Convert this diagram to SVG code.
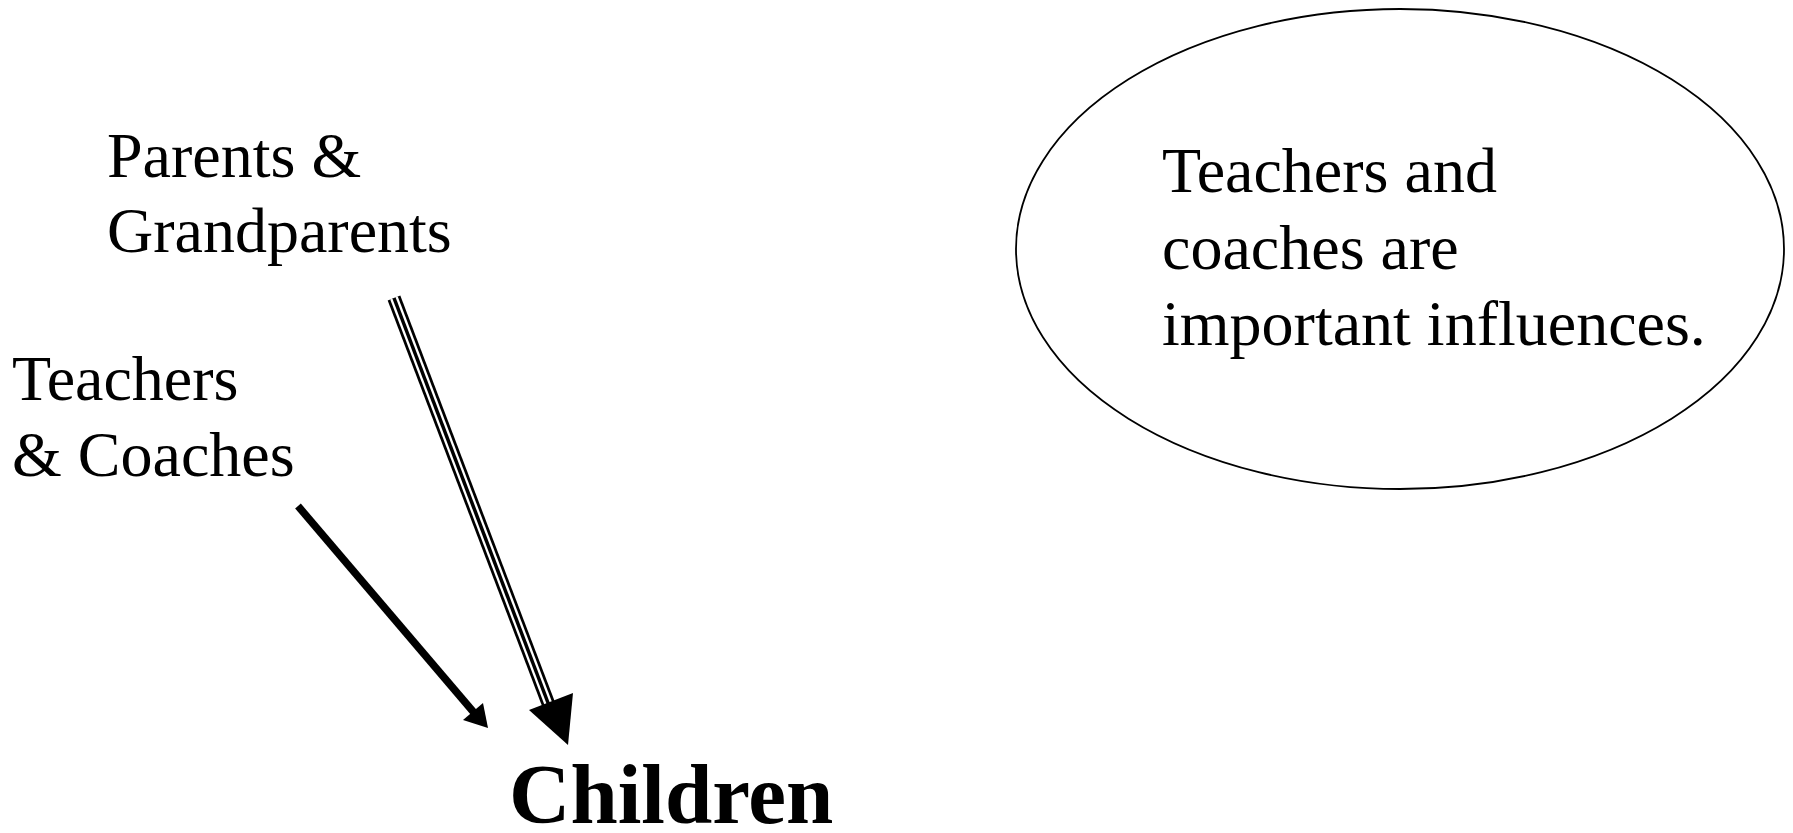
<svg xmlns="http://www.w3.org/2000/svg" width="1793" height="833" viewBox="0 0 1793 833">
<style>
text{font-family:"Liberation Serif","Times New Roman",serif;fill:#000}
.t{font-size:64px}
.b{font-size:85px;font-weight:bold}
.ln{fill:none;stroke-linecap:butt}
</style>
<rect width="1793" height="833" fill="#fff"/>
<g id="connectors">
<line class="ln" x1="394" y1="298" x2="550" y2="708" stroke="#000" stroke-width="13.5"/>
<line class="ln" x1="394" y1="298" x2="550" y2="708" stroke="#fff" stroke-width="8"/>
<line class="ln" x1="394" y1="298" x2="550" y2="708" stroke="#000" stroke-width="3.5"/>
<polygon points="529,710 573,693 568,745" fill="#000"/>
<line class="ln" x1="298" y1="506" x2="476" y2="715" stroke="#000" stroke-width="7.5"/>
<polygon points="463,720 483,703 488,728" fill="#000"/>
</g>
<g id="node-parents">
<text class="t" x="107" y="177">Parents &amp;</text>
<text class="t" x="107" y="252">Grandparents</text>
</g>
<g id="node-teachers">
<text class="t" x="12" y="400">Teachers</text>
<text class="t" x="12" y="476">&amp; Coaches</text>
</g>
<g id="node-children">
<text class="b" x="509" y="823">Children</text>
</g>
<g id="node-note">
<ellipse cx="1400" cy="249" rx="384" ry="240" fill="#fff" stroke="#000" stroke-width="1.8"/>
<text class="t" x="1162" y="192">Teachers and</text>
<text class="t" x="1162" y="269">coaches are</text>
<text class="t" x="1162" y="345">important influences.</text>
</g>
</svg>
